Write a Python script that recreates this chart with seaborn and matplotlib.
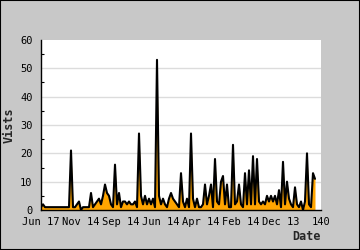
import numpy as np
import pandas as pd
import matplotlib
matplotlib.use("Agg")
import matplotlib.pyplot as plt
from matplotlib.patches import Rectangle
from matplotlib.ticker import MultipleLocator
import seaborn as sns

# ---- data ----
visits = [1, 2, 1, 1, 1, 1, 1, 1, 1, 1, 1, 1, 1, 1, 1, 21, 1, 1, 2, 3,
          0, 1, 1, 1, 1, 6, 1, 2, 3, 4, 2, 5, 9, 6, 5, 2, 1, 16, 2, 6,
          1, 3, 3, 2, 3, 2, 2, 3, 1, 27, 5, 2, 5, 2, 4, 2, 4, 1, 53, 5,
          2, 4, 2, 1, 4, 6, 4, 3, 2, 1, 13, 3, 1, 4, 1, 27, 4, 1, 4, 1,
          1, 2, 9, 2, 5, 9, 1, 18, 3, 2, 10, 12, 2, 9, 1, 1, 23, 2, 3, 9,
          2, 1, 13, 2, 14, 2, 19, 2, 18, 3, 2, 3, 2, 5, 3, 5, 3, 5, 2, 7,
          1, 17, 2, 10, 4, 2, 1, 8, 2, 1, 3, 0, 3, 20, 2, 1, 13, 11]
tick_positions = [0, 20, 40, 60, 80, 100, 120, 140]
tick_labels = ['Jun 17', 'Nov 14', 'Sep 14', 'Jun 14', 'Apr 14', 'Feb 14', 'Dec 13', '140']
y_ticks = [0, 10, 20, 30, 40, 50, 60]

df = pd.DataFrame({"idx": np.arange(len(visits)), "visits": visits})

sns.set_style("white")
plt.rcParams['font.family'] = ['DejaVu Sans Mono', 'DejaVu Sans']

fig = plt.figure(figsize=(3.6, 2.5), dpi=100, facecolor='#c8c8c8')
ax = fig.add_axes([41/360, 40/250, 280/360, 170/250])
ax.set_facecolor('white')

ax.fill_between(df["idx"], df["visits"], 0, color='#ffa500', lw=0, zorder=2)
sns.lineplot(data=df, x="idx", y="visits", ax=ax, color='black', lw=1.5, zorder=3)

ax.set_xlim(0, 140)
ax.set_ylim(0, 60)
ax.set_xticks(tick_positions)
ax.set_xticklabels(tick_labels)
ax.set_yticks(y_ticks)
ax.yaxis.set_minor_locator(MultipleLocator(5))
for y in y_ticks[1:-1]:
    ax.axhline(y, color='#dcdcdc', lw=1, zorder=1)

for s in ['top', 'right']:
    ax.spines[s].set_visible(False)
for s in ['left', 'bottom']:
    ax.spines[s].set_color('black')
    ax.spines[s].set_linewidth(1)
    ax.spines[s].set_zorder(5)

ax.tick_params(axis='both', which='major', direction='in', length=3, width=0.8,
               color='black', labelsize=7.5, labelcolor='black')
ax.tick_params(axis='y', which='major', pad=6)
ax.tick_params(axis='x', which='major', pad=5)
ax.tick_params(axis='y', which='minor', direction='in', length=2, width=0.8, color='black', left=True)
ax.tick_params(axis='x', which='minor', bottom=False)

ax.set_xlabel('Date', fontsize=8.5, fontweight='bold', ha='right', va='center')
ax.xaxis.set_label_coords(1.0, -0.155)
ax.set_ylabel('Vists', fontsize=8.5, fontweight='bold', va='center')
ax.yaxis.set_label_coords(-0.114, 0.5)

fig.add_artist(Rectangle((0, 0), 1, 1, transform=fig.transFigure, fill=False,
                         ec='black', lw=1.5))

fig.savefig('out.png', dpi=100, facecolor=fig.get_facecolor())
